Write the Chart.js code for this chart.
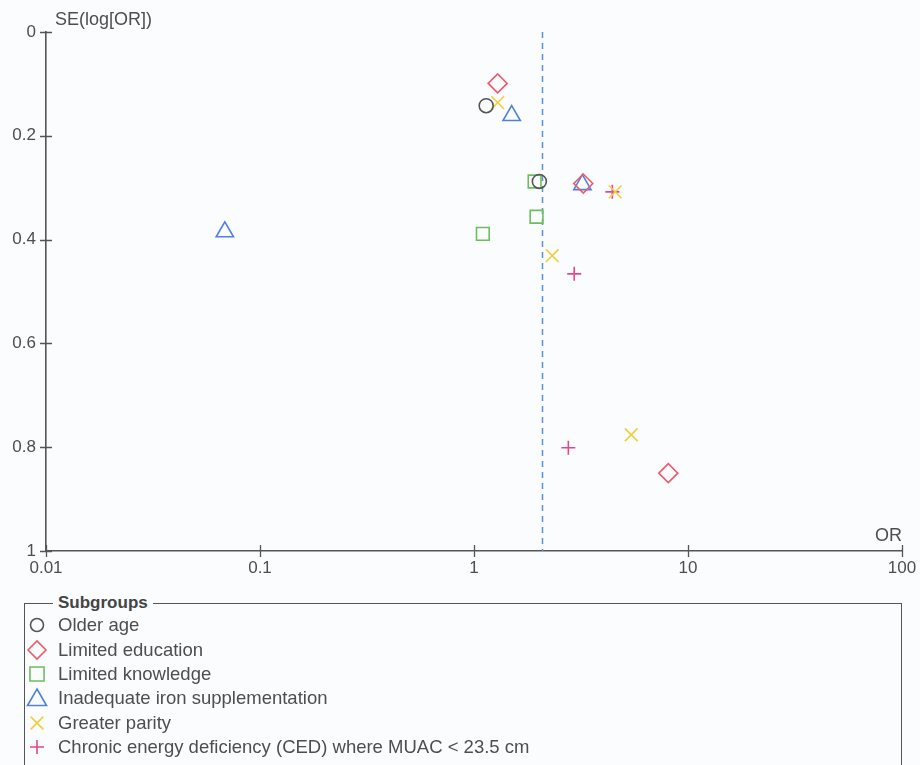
<!DOCTYPE html>
<html lang="en">
<head>
<meta charset="UTF-8">
<script src="https://cdn.jsdelivr.net/npm/chart.js"></script>
<style>
  body { margin: 0; background: #fbfcfd; width: 920px; height: 765px; overflow: hidden; position: relative;
         font-family: "Liberation Sans", Arial, sans-serif; color: #4e4e4e; }
  #wrap { position: absolute; left: 0; top: 0; width: 920px; height: 590px; }
  #box { position: absolute; left: 24px; top: 603px; width: 876px; height: 200px; border: 1.5px solid #555; }
  #boxTitle { position: absolute; left: 53px; top: 592px; padding: 0 5px; background: #fbfcfd;
              font-weight: bold; font-size: 17px; line-height: 21px; color: #444; }
  #rows { position: absolute; left: 0; top: 613px; }
  .row { display: flex; align-items: center; height: 24.4px; font-size: 18.5px; }
  .row canvas { margin-left: 24px; margin-right: 8px; }
</style>
</head>
<body>
<div id="wrap"><canvas id="funnel"></canvas></div>
<div id="box"></div>
<div id="boxTitle">Subgroups</div>
<div id="rows"></div>

<script>
// subgroups
const groups = ['Older age', 'Limited education', 'Limited knowledge',
                'Inadequate iron supplementation', 'Greater parity',
                'Chronic energy deficiency (CED) where MUAC < 23.5 cm'];
const shapes = ['circle', 'rectRot', 'rect', 'triangle', 'crossRot', 'cross'];
const colors = ['#555555', '#ee5a6a', '#6cbf5c', '#4f80dd', '#f0cf3a', '#e4478e'];
const sizes  = [7, 9.5, 9, 10, 9, 7];

// odds ratios and standard errors
const orValues = [
  [1.14, 2.02],
  [1.29, 3.24, 8.09],
  [1.92, 1.96, 1.10],
  [1.50, 3.21, 0.0685],
  [1.29, 4.57, 2.32, 5.43],
  [4.43, 2.94, 2.76]
];
const seValues = [
  [0.142, 0.288],
  [0.099, 0.292, 0.850],
  [0.288, 0.356, 0.389],
  [0.161, 0.294, 0.385],
  [0.136, 0.308, 0.431, 0.776],
  [0.308, 0.466, 0.801]
];

const pooledOR = 2.09;
const xTicks = [0.01, 0.1, 1, 10, 100];
const yTicks = [0, 0.2, 0.4, 0.6, 0.8, 1];
const xTitle = 'OR';
const yTitle = 'SE(log[OR])';

const axisColor = '#555';
const textColor = '#4e4e4e';

const datasets = groups.map((g, i) => ({
  label: g,
  data: orValues[i].map((v, j) => ({ x: v, y: seValues[i][j] })),
  pointStyle: shapes[i],
  pointRadius: sizes[i],
  borderColor: colors[i],
  backgroundColor: 'transparent',
  pointBorderWidth: 1.6,
  showLine: false
}));

datasets.push({
  type: 'line',
  label: 'pooled',
  data: [{ x: pooledOR, y: 0 }, { x: pooledOR, y: 1 }],
  borderColor: '#5b90dc',
  borderWidth: 1.5,
  borderDash: [6, 5],
  pointRadius: 0
});

// tick marks crossing the axes + axis titles
const axisDecor = {
  id: 'axisDecor',
  afterDraw(chart) {
    const { ctx, chartArea: a, scales: { x, y } } = chart;
    ctx.save();
    ctx.strokeStyle = axisColor;
    ctx.lineWidth = 1.3;
    ctx.beginPath();
    xTicks.forEach(v => {
      const px = Math.round(x.getPixelForValue(v)) + 0.5;
      ctx.moveTo(px, a.bottom - 6);
      ctx.lineTo(px, a.bottom + 6);
    });
    yTicks.forEach(v => {
      const py = Math.round(y.getPixelForValue(v)) + 0.5;
      ctx.moveTo(a.left - 6, py);
      ctx.lineTo(a.left + 6, py);
    });
    ctx.stroke();
    ctx.fillStyle = textColor;
    ctx.font = '18px "Liberation Sans", Arial, sans-serif';
    ctx.textBaseline = 'bottom';
    ctx.textAlign = 'left';
    ctx.fillText(yTitle, a.left + 9, a.top - 3);
    ctx.textAlign = 'right';
    ctx.fillText(xTitle, a.right, a.bottom - 6);
    ctx.restore();
  }
};

new Chart(document.getElementById('funnel'), {
  type: 'scatter',
  data: { datasets },
  options: {
    responsive: true,
    maintainAspectRatio: false,
    animation: false,
    layout: { padding: { top: 32, right: 18, left: 0, bottom: 0 } },
    plugins: { legend: { display: false }, tooltip: { enabled: false } },
    scales: {
      x: {
        type: 'logarithmic',
        min: 0.01,
        max: 100,
        afterBuildTicks: s => { s.ticks = xTicks.map(v => ({ value: v })); },
        afterFit: s => { s.height = 39; s.paddingRight = 0; s.paddingLeft = 0; },
        grid: { drawOnChartArea: false, drawTicks: false },
        border: { color: axisColor, width: 1.6 },
        ticks: {
          padding: 7,
          color: textColor,
          font: { family: '"Liberation Sans", Arial, sans-serif', size: 17 },
          callback: v => String(v),
          maxRotation: 0
        }
      },
      y: {
        reverse: true,
        min: 0,
        max: 1,
        afterBuildTicks: s => { s.ticks = yTicks.map(v => ({ value: v })); },
        afterFit: s => { s.width = 46; },
        grid: { drawOnChartArea: false, drawTicks: false },
        border: { color: axisColor, width: 1.6 },
        ticks: {
          padding: 10,
          color: textColor,
          font: { family: '"Liberation Sans", Arial, sans-serif', size: 17 },
          callback: v => String(v)
        }
      }
    }
  },
  plugins: [axisDecor]
});

// legend rows, markers drawn with Chart.js point helper
const legendSizes = [6.5, 9, 10, 11, 9, 7];
const rows = document.getElementById('rows');
groups.forEach((g, i) => {
  const row = document.createElement('div');
  row.className = 'row';
  const c = document.createElement('canvas');
  c.width = 26; c.height = 24;
  const cx = c.getContext('2d');
  cx.strokeStyle = colors[i];
  cx.fillStyle = 'transparent';
  cx.lineWidth = 1.6;
  if (Chart.helpers && Chart.helpers.drawPoint) {
    Chart.helpers.drawPoint(cx, { pointStyle: shapes[i], radius: legendSizes[i], rotation: 0, borderWidth: 1.6 }, 13, i === 3 ? 14 : 12);
  }
  row.appendChild(c);
  const t = document.createElement('span');
  t.textContent = g;
  row.appendChild(t);
  rows.appendChild(row);
});
</script>
</body>
</html>
